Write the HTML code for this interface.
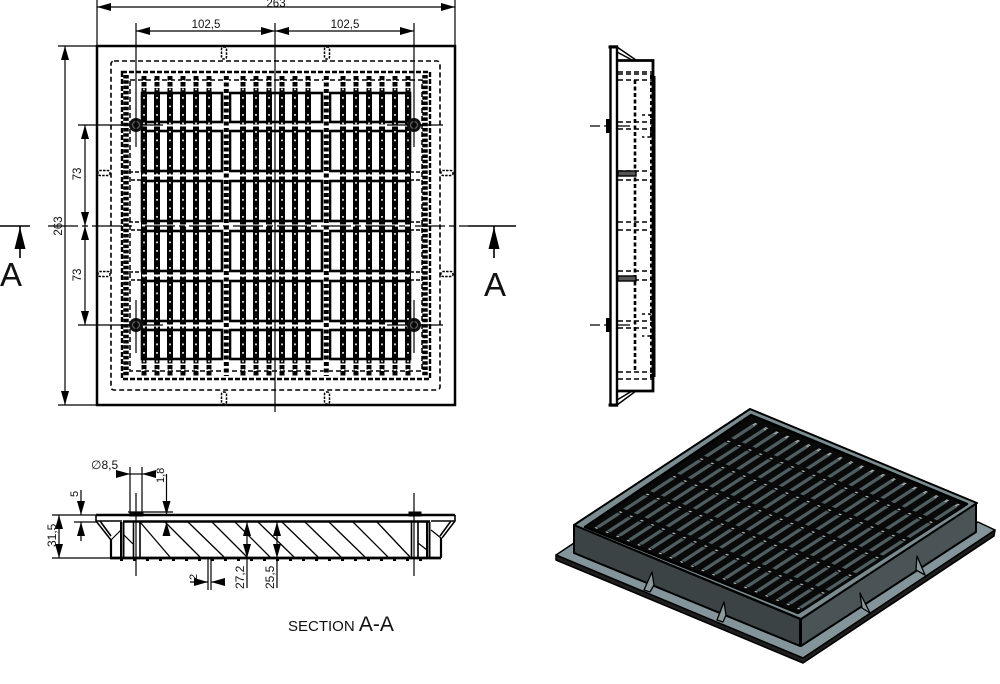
<!DOCTYPE html>
<html><head><meta charset="utf-8"><style>
html,body{margin:0;padding:0;background:#fff}
svg{display:block}
text{font-family:"Liberation Sans",sans-serif;fill:#111}
</style></head><body>
<svg width="1000" height="684" viewBox="0 0 1000 684" xmlns="http://www.w3.org/2000/svg">
<defs>
<marker id="a" markerUnits="userSpaceOnUse" markerWidth="14" markerHeight="8" refX="14" refY="4" orient="auto-start-reverse"><path d="M0 0L14 4L0 8Z" fill="#000"/></marker>
<pattern id="grate" patternUnits="userSpaceOnUse" width="16.67" height="5" x="0" y="0">
<rect width="16.67" height="5" fill="#090909"/>
<rect x="2" y="1.8" width="13" height="1.7" fill="#4f5f61"/>
<rect x="15.7" y="2" width="0.8" height="1.2" fill="#b8c0c0"/>
</pattern>
<g id="bars">
<g stroke="#000" stroke-width="6"><path d="M144 93V359M157 93V359M170 93V359M183 93V359M196 93V359M209 93V359"/></g>
<g stroke="#000" stroke-width="5" stroke-dasharray="4.5 1.5"><path d="M144 76V93M157 76V93M170 76V93M183 76V93M196 76V93M209 76V93M144 359V376M157 359V376M170 359V376M183 359V376M196 359V376M209 359V376"/></g>
<g stroke="#fff" stroke-width="1.6" stroke-dasharray="1.8 6.7"><path d="M144 80V375M157 80V375M170 80V375M183 80V375M196 80V375M209 80V375"/></g>
</g>
<g id="slotsA" fill="#fff" stroke="#000" stroke-width="2.6">
<rect x="142" y="93" width="80" height="29"/><rect x="142" y="131" width="80" height="40"/><rect x="142" y="181" width="80" height="40"/><rect x="142" y="231" width="80" height="40"/><rect x="142" y="281" width="80" height="40"/><rect x="142" y="330" width="80" height="29"/>
</g>
<g id="slotsB" fill="#fff" stroke="#000" stroke-width="2.6">
<rect x="230" y="93" width="92" height="29"/><rect x="230" y="131" width="92" height="40"/><rect x="230" y="181" width="92" height="40"/><rect x="230" y="231" width="92" height="40"/><rect x="230" y="281" width="92" height="40"/><rect x="230" y="330" width="92" height="29"/>
</g>
<g id="bolt"><circle r="7" fill="#111"/><circle r="3.5" fill="none" stroke="#666" stroke-width="1"/><circle r="1.5" fill="#000"/></g>
<g id="lug" fill="none" stroke="#000" stroke-width="1.5" stroke-dasharray="2.5 1.2"><rect x="-2.5" y="-6" width="5" height="12" rx="2"/></g>
</defs>
<rect width="1000" height="684" fill="#fff"/>

<!-- TOP VIEW -->
<rect x="97" y="46" width="358" height="359" fill="#fff" stroke="#000" stroke-width="2.5"/>
<rect x="111" y="61" width="329" height="329" rx="3" fill="none" stroke="#000" stroke-width="1.6" stroke-dasharray="5 3"/>
<rect x="122" y="72" width="308" height="307" fill="none" stroke="#000" stroke-width="2.4" stroke-dasharray="5 2"/>
<path d="M126 75V376M425 75V376" stroke="#000" stroke-width="5.5" stroke-dasharray="3.5 1.8"/>
<rect x="130" y="80" width="292" height="291" fill="none" stroke="#000" stroke-width="1.5" stroke-dasharray="5 3"/>
<path d="M129 172H142M131 180H142M129 222H142M131 230H142M129 272H142M131 280H142M410 172H423M410 180H421M410 222H423M410 230H421M410 272H423M410 280H421" stroke="#000" stroke-width="1.4" stroke-dasharray="4 2"/>
<use href="#slotsA"/><use href="#slotsB"/><use href="#slotsA" x="188"/>
<use href="#bars"/><use href="#bars" x="99"/><use href="#bars" x="199"/>
<path d="M142 125.5H410M142 175.5H410M142 225.5H410M142 275.5H410M142 325.5H410" stroke="#fff" stroke-width="2"/>
<rect x="223.5" y="76" width="5.5" height="300" fill="#fff"/><rect x="323.5" y="76" width="5.5" height="300" fill="#fff"/>
<path d="M226.3 76V376M326.3 76V376" stroke="#000" stroke-width="5" stroke-dasharray="4 2.5"/>
<use href="#lug" x="224" y="53"/><use href="#lug" x="327" y="53"/><use href="#lug" x="224" y="398"/><use href="#lug" x="327" y="398"/>
<use href="#lug" transform="translate(104,173) rotate(90)"/><use href="#lug" transform="translate(104,274) rotate(90)"/><use href="#lug" transform="translate(447,173) rotate(90)"/><use href="#lug" transform="translate(447,274) rotate(90)"/>
<use href="#bolt" x="136" y="125"/><use href="#bolt" x="414" y="125"/><use href="#bolt" x="136" y="325"/><use href="#bolt" x="414" y="325"/>

<!-- top dims -->
<g stroke="#000" stroke-width="1.2" fill="none">
<path d="M97 0V46M455 0V46M136 23V147M275 23V412M414 23V147M136 300V353M414 300V353"/>
<path d="M58 46H97M58 405H97M78 125H130M78 325H130M420 125H443M420 325H443M143 125H163M387 125H408M143 325H163M387 325H408"/>
<line x1="97" y1="7" x2="455" y2="7" marker-start="url(#a)" marker-end="url(#a)"/>
<line x1="136" y1="31" x2="275" y2="31" marker-start="url(#a)" marker-end="url(#a)"/>
<line x1="275" y1="31" x2="414" y2="31" marker-start="url(#a)" marker-end="url(#a)"/>
<line x1="65" y1="46" x2="65" y2="405" marker-start="url(#a)" marker-end="url(#a)"/>
<line x1="85" y1="125" x2="85" y2="226" marker-start="url(#a)" marker-end="url(#a)"/>
<line x1="85" y1="226" x2="85" y2="325" marker-start="url(#a)" marker-end="url(#a)"/>
<path d="M48 226H135M145 226H405M415 226H468" stroke-dasharray="30 4 6 4"/>
</g>
<path d="M0 226H30M468 226H516M20 226V258M494 226V258" stroke="#000" stroke-width="1.6"/>
<path d="M20 227L14.5 249H25.5ZM494 227L488.5 249H499.5Z" fill="#000"/>
<text x="0" y="286" font-size="33">A</text>
<text x="484" y="296" font-size="33">A</text>
<text x="276" y="7" font-size="11.5" text-anchor="middle">263</text>
<text x="206" y="28" font-size="11.5" text-anchor="middle">102,5</text>
<text x="345" y="28" font-size="11.5" text-anchor="middle">102,5</text>
<text transform="translate(62,226) rotate(-90)" font-size="11.5" text-anchor="middle">263</text>
<text transform="translate(81,174) rotate(-90)" font-size="11.5" text-anchor="middle">73</text>
<text transform="translate(81,275) rotate(-90)" font-size="11.5" text-anchor="middle">73</text>

<!-- SIDE VIEW -->
<g fill="none" stroke="#000">
<rect x="610.5" y="46.5" width="6.5" height="359" stroke-width="2.4"/>
<path d="M608.5 47H617M608.5 405H617" stroke-width="3"/>
<path d="M617 60.5H653V391H617" stroke-width="2.8"/>
<path d="M654 76V377" stroke-width="3"/>
<path d="M617 47L636 60M617 52L632 60M617 405L636 391M617 400L632 391" stroke-width="1.5"/>
<path d="M618 72H652M618 74H652M618 80H652M618 372H652M618 379H652M618 122H650M618 129H650M618 321H650M618 328H650M618 171H650M618 180H650M618 222H650M618 230H650M618 271H650M618 280H650" stroke-width="1.5" stroke-dasharray="5 3"/>
<path d="M635 80V372" stroke-width="2.6" stroke-dasharray="4 2.5"/>
<path d="M651 75V378" stroke-width="2" stroke-dasharray="4 2.5"/>
<path d="M642 115H650L652 126L650 137H642M642 314H650L652 325L650 336H642" stroke-width="1.5" stroke-dasharray="3 3"/>
<path d="M590 126H600M604 126H606M617 126H630M590 325H600M604 325H606M617 325H630" stroke-width="1.2"/>
<path d="M608 119V133M608 318V332" stroke-width="4"/>
<rect x="618" y="171" width="18" height="5" fill="#555" stroke-width="1.4"/>
<rect x="618" y="276" width="18" height="5" fill="#555" stroke-width="1.4"/>
</g>

<!-- SECTION -->
<g fill="none" stroke="#000">
<path d="M136 493V576M414 493V576" stroke-width="1.2"/>
<path d="M96 515H455" stroke-width="2.6"/>
<path d="M123 521.5H430" stroke-width="2.6"/>
<path d="M96 515V521L111 540M455 515V521L442 538M100 521L111 536M451 521L440 536" stroke-width="1.6"/>
<path d="M96 521H122M431 521H455" stroke-width="1.5"/>
<path d="M111 540V558M441 538V558" stroke-width="2.2"/>
<path d="M121 522V558M123.5 522V558M427 522V558M429.5 522V558" stroke-width="2"/>
<path d="M110 558H441" stroke-width="2.8"/>
<path d="M111 540L121 530M124 535L133 544M441 538L431 530M418 543L427 550" stroke-width="1.2"/>
<path d="M133.5 522V558M140 522V558M411.5 522V558M418 522V558" stroke-width="1.6"/>
<path d="M130 512H143V516H130ZM409 512H421V516H409Z" fill="#000" stroke-width="1"/>
<path d="M128 512H173" stroke-width="1.2"/>
<path d="M140 522L170 557M165 522L200 557M188 522L224 557M212 522L247 557M235 522L270 557M258 522L294 557M282 522L318 557M305 522L341 557M329 522L365 557M353 522L388 557M377 522L410 557" stroke-width="1.3"/>
<path d="M120 559.5H430" stroke-width="3" stroke-dasharray="3 10"/>
<path d="M208 558V590M211 558V590" stroke-width="1.2"/>
<path d="M130 467V515M142 467V515M52 515H96M52 558H110M74 522H97" stroke-width="1.2"/>
<line x1="59" y1="515" x2="59" y2="558" stroke-width="1.2" marker-start="url(#a)" marker-end="url(#a)"/>
<line x1="81" y1="490" x2="81" y2="515" stroke-width="1.2" marker-end="url(#a)"/>
<line x1="81" y1="541" x2="81" y2="522" stroke-width="1.2" marker-end="url(#a)"/>
<line x1="118" y1="474" x2="130" y2="474" stroke-width="1.2" marker-end="url(#a)"/>
<line x1="155" y1="474" x2="142" y2="474" stroke-width="1.2" marker-end="url(#a)"/>
<path d="M130 474H142" stroke-width="1.2"/>
<line x1="166.5" y1="474" x2="166.5" y2="515" stroke-width="1.2" marker-end="url(#a)"/>
<line x1="166.5" y1="530" x2="166.5" y2="522" stroke-width="1.2" marker-end="url(#a)"/>
<line x1="247" y1="522" x2="247" y2="558" stroke-width="1.2" marker-start="url(#a)" marker-end="url(#a)"/>
<path d="M247 558V588M277 558V588" stroke-width="1.2"/>
<line x1="277" y1="522" x2="277" y2="558" stroke-width="1.2" marker-start="url(#a)" marker-end="url(#a)"/>
<line x1="190" y1="582" x2="208" y2="582" stroke-width="1.2" marker-end="url(#a)"/>
<line x1="224" y1="582" x2="211" y2="582" stroke-width="1.2" marker-end="url(#a)"/>
</g>
<text x="91" y="469" font-size="12">∅8,5</text>
<text transform="translate(164,483) rotate(-90)" font-size="11">1,8</text>
<text transform="translate(78,497) rotate(-90)" font-size="11">5</text>
<text transform="translate(56,547) rotate(-90)" font-size="12">31,5</text>
<text transform="translate(197,580) rotate(-90)" font-size="11">2</text>
<text transform="translate(244,589) rotate(-90)" font-size="12">27,2</text>
<text transform="translate(274,589) rotate(-90)" font-size="12">25,5</text>
<text x="288" y="631" font-size="15">SECTION <tspan font-size="21">A-A</tspan></text>

<!-- 3D VIEW -->
<g stroke-linejoin="round">
<path d="M556 555V560L803 663L994 536L995 530Z" fill="#1e1e1e" stroke="#000" stroke-width="1.5"/>
<path d="M574 543L556 555L803 658L995 530L978 522L802 620Z" fill="#83959a" stroke="#000" stroke-width="1.5"/>
<path d="M574 525V553L800 646V619Z" fill="#3b4345" stroke="#000" stroke-width="2"/>
<path d="M801 619V646L976 532V503Z" fill="#4a5355" stroke="#000" stroke-width="2"/>
<path d="M574 525L750 409L977 503L801 619Z" fill="#7b8c90" stroke="#000" stroke-width="2"/>
<path d="M585 527L751 415L967 504L798 613Z" fill="#090909" stroke="#000" stroke-width="2.5"/>
<g transform="matrix(1.62,-1.06,2.13,.85,589,527)">
<rect x="0" y="0" width="100" height="100" fill="url(#grate)"/>
<path d="M1.2 2V98M98.5 2V98" stroke="#aab4b4" stroke-width="0.8" stroke-dasharray="1.2 3.8" fill="none"/>
</g>
<path d="M652 572L644 590L650 592L654 585ZM724 602L717 620L723 622L726 615ZM860 593L862 608L870 613ZM917 556L916 570L925 575Z" fill="#8a999c" stroke="#000" stroke-width="1.3"/>
</g>
</svg>
</body></html>
